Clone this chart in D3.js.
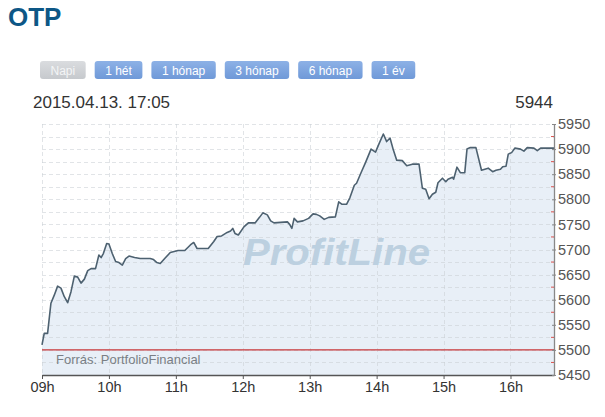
<!DOCTYPE html>
<html>
<head>
<meta charset="utf-8">
<script src="https://cdn.jsdelivr.net/npm/d3@7"></script>
<style>
  body { margin: 0; background: #fff; }
  svg text { font-family: "Liberation Sans", Arial, sans-serif; }
</style>
</head>
<body>
<div id="chart"></div>
<script>
// intraday quotes
var times = ["09:00","09:02","09:05","09:08","09:11","09:14","09:17","09:20","09:23","09:26",
  "09:29","09:32","09:35","09:38","09:41","09:44","09:48","09:51","09:53","09:55",
  "09:58","10:00","10:03","10:06","10:09","10:12","10:15","10:18","10:23","10:28",
  "10:37","10:40","10:43","10:46","10:50","10:55","11:02","11:08","11:13","11:16",
  "11:19","11:29","11:34","11:37","11:41","11:46","11:49","11:51","11:53","11:56",
  "12:01","12:05","12:11","12:15","12:18","12:22","12:25","12:28","12:34","12:40",
  "12:42","12:44","12:46","12:49","12:54","12:59","13:03","13:06","13:09","13:13",
  "13:17","13:23","13:26","13:29","13:33","13:36","13:40","13:42","13:46","13:50",
  "13:55","13:59","14:02","14:06","14:09","14:12","14:15","14:18","14:23","14:27",
  "14:32","14:38","14:41","14:44","14:47","14:50","14:53","14:55","14:59","15:02",
  "15:04","15:08","15:09","15:12","15:15","15:19","15:21","15:24","15:29","15:34",
  "15:37","15:40","15:44","15:47","15:51","15:53","15:56","15:58","16:01","16:04",
  "16:09","16:12","16:15","16:21","16:24","16:27","16:39"];
var prices = [5510,5533,5533,5593,5609,5627,5623,5606,5594,5616,
  5647,5645,5633,5641,5658,5662,5662,5689,5684,5692,
  5712,5711,5692,5676,5674,5669,5682,5687,5684,5682,
  5682,5680,5674,5672,5682,5694,5698,5698,5709,5714,
  5702,5702,5716,5726,5727,5734,5737,5742,5732,5729,
  5745,5753,5753,5764,5773,5769,5757,5753,5754,5755,
  5750,5742,5762,5755,5757,5762,5771,5770,5767,5760,
  5764,5765,5795,5790,5790,5803,5828,5832,5853,5873,
  5900,5894,5910,5930,5915,5922,5898,5878,5877,5867,
  5870,5870,5822,5820,5801,5810,5814,5833,5842,5835,
  5840,5844,5840,5864,5853,5853,5900,5903,5903,5858,
  5860,5862,5855,5858,5860,5865,5866,5890,5893,5902,
  5900,5896,5903,5902,5897,5902,5902];
var prevClose = 5500;
var lastPrice = 5944;
var stamp = "2015.04.13. 17:05";
var yTicks = [5450,5500,5550,5600,5650,5700,5750,5800,5850,5900,5950];
var yMinor = [5475,5525,5575,5625,5675,5725,5775,5825,5875,5925];
var buttons = ["Napi","1 hét","1 hónap","3 hónap","6 hónap","1 év"];
var title = "OTP";

var W = 605, H = 417;
var plotL = 42, plotR = 554, plotT = 124, plotB = 375;

var parse = d3.timeParse("%H:%M");
var data = times.map(function(t, i) { return {t: parse(t), v: prices[i]}; });

var svg = d3.select("#chart").append("svg")
    .attr("width", W).attr("height", H);

var defs = svg.append("defs");
var gb = defs.append("linearGradient").attr("id", "btnBlue").attr("x1", 0).attr("x2", 0).attr("y1", 0).attr("y2", 1);
gb.append("stop").attr("offset", "0%").attr("stop-color", "#8db1e6");
gb.append("stop").attr("offset", "100%").attr("stop-color", "#6f99d8");
var gg = defs.append("linearGradient").attr("id", "btnGray").attr("x1", 0).attr("x2", 0).attr("y1", 0).attr("y2", 1);
gg.append("stop").attr("offset", "0%").attr("stop-color", "#dadcdf");
gg.append("stop").attr("offset", "100%").attr("stop-color", "#c6c9cd");

// title
svg.append("text").attr("x", 8).attr("y", 26)
    .attr("font-size", 26).attr("font-weight", "bold").attr("fill", "#0d5786")
    .text(title);

// period buttons
var bx = 40;
buttons.forEach(function(b, i) {
    var g = svg.append("g");
    var txt = g.append("text").attr("y", 74.5).attr("font-size", 12)
        .attr("fill", i === 0 ? "#f4f5f6" : "#ffffff").attr("text-anchor", "middle").text(b);
    var w = txt.node().getComputedTextLength() + 21;
    g.insert("rect", "text").attr("x", bx).attr("y", 61).attr("width", w).attr("height", 18)
        .attr("rx", 3).attr("fill", i === 0 ? "url(#btnGray)" : "url(#btnBlue)");
    txt.attr("x", bx + w / 2);
    bx += w + 9;
});

svg.append("text").attr("x", 33).attr("y", 108).attr("font-size", 17).attr("fill", "#333")
    .text(stamp);
svg.append("text").attr("x", 553).attr("y", 108).attr("font-size", 17).attr("fill", "#333")
    .attr("text-anchor", "end").text(lastPrice);

var x = d3.scaleTime().domain([parse("09:00"), parse("16:39")]).range([plotL, plotR]);
var y = d3.scaleLinear().domain([5450, 5950]).range([plotB, plotT]);

// area fill
var area = d3.area().x(function(d) { return x(d.t); }).y0(y(5450)).y1(function(d) { return y(d.v); });
svg.append("path").datum(data).attr("d", area).attr("fill", "#e8eff7");

// grid
var grid = svg.append("g").attr("stroke", "#c9ced4").attr("stroke-opacity", 0.55)
    .attr("stroke-dasharray", "4,3").attr("stroke-width", 1);
grid.selectAll("line.h").data(yTicks.concat(yMinor)).enter().append("line")
    .attr("x1", plotL).attr("x2", plotR)
    .attr("y1", function(d) { return Math.round(y(d)) + 0.5; })
    .attr("y2", function(d) { return Math.round(y(d)) + 0.5; });
grid.selectAll("line.v").data(x.ticks(d3.timeHour.every(1))).enter().append("line")
    .attr("x1", function(d) { return Math.round(x(d)) + 0.5; })
    .attr("x2", function(d) { return Math.round(x(d)) + 0.5; })
    .attr("y1", plotT).attr("y2", plotB);

// watermark
svg.append("text").attr("x", 243).attr("y", 265)
    .attr("font-size", 37).attr("font-weight", "bold").attr("font-style", "italic")
    .attr("fill", "#bcd0e0").attr("textLength", 187).attr("lengthAdjust", "spacingAndGlyphs")
    .text("ProfitLine");

// previous close
svg.append("line").attr("x1", plotL).attr("x2", plotR)
    .attr("y1", y(prevClose)).attr("y2", y(prevClose))
    .attr("stroke", "#c8373a").attr("stroke-width", 1.3);

svg.append("text").attr("x", 56).attr("y", 364).attr("font-size", 13).attr("fill", "#7a7f85")
    .text("Forrás: PortfolioFinancial");

// price line
var line = d3.line().x(function(d) { return x(d.t); }).y(function(d) { return y(d.v); });
svg.append("path").datum(data).attr("d", line)
    .attr("fill", "none").attr("stroke", "#4d6170").attr("stroke-width", 1.6)
    .attr("stroke-linejoin", "round");

// x axis
var xAxis = svg.append("g").attr("transform", "translate(0," + plotB + ")")
    .call(d3.axisBottom(x).ticks(d3.timeHour.every(1)).tickFormat(d3.timeFormat("%Hh"))
        .tickSizeInner(4).tickSizeOuter(0).tickPadding(3));
xAxis.select(".domain").attr("stroke", "#555").attr("stroke-width", 1.3);
xAxis.selectAll(".tick line").attr("stroke", "#555");
xAxis.selectAll("text").attr("font-size", 14.5).attr("fill", "#333")
    .attr("font-family", "'Liberation Sans', Arial, sans-serif");

// y axis on the right
var yAxis = svg.append("g").attr("transform", "translate(" + plotR + ",0)")
    .call(d3.axisRight(y).tickValues(yTicks).tickFormat(d3.format("d"))
        .tickSizeInner(2).tickSizeOuter(0).tickPadding(2));
yAxis.select(".domain").attr("stroke", "#888").attr("stroke-width", 1.3);
yAxis.selectAll(".tick line").attr("stroke", "#888").attr("x1", -2);
yAxis.selectAll("text").attr("font-size", 14.5).attr("fill", "#555")
    .attr("font-family", "'Liberation Sans', Arial, sans-serif");
yAxis.selectAll("line.minor").data(yMinor).enter().append("line").attr("class", "minor")
    .attr("x1", -3).attr("x2", 0)
    .attr("y1", function(d) { return y(d); }).attr("y2", function(d) { return y(d); })
    .attr("stroke", "#d9534f").attr("stroke-width", 1);
</script>
</body>
</html>
